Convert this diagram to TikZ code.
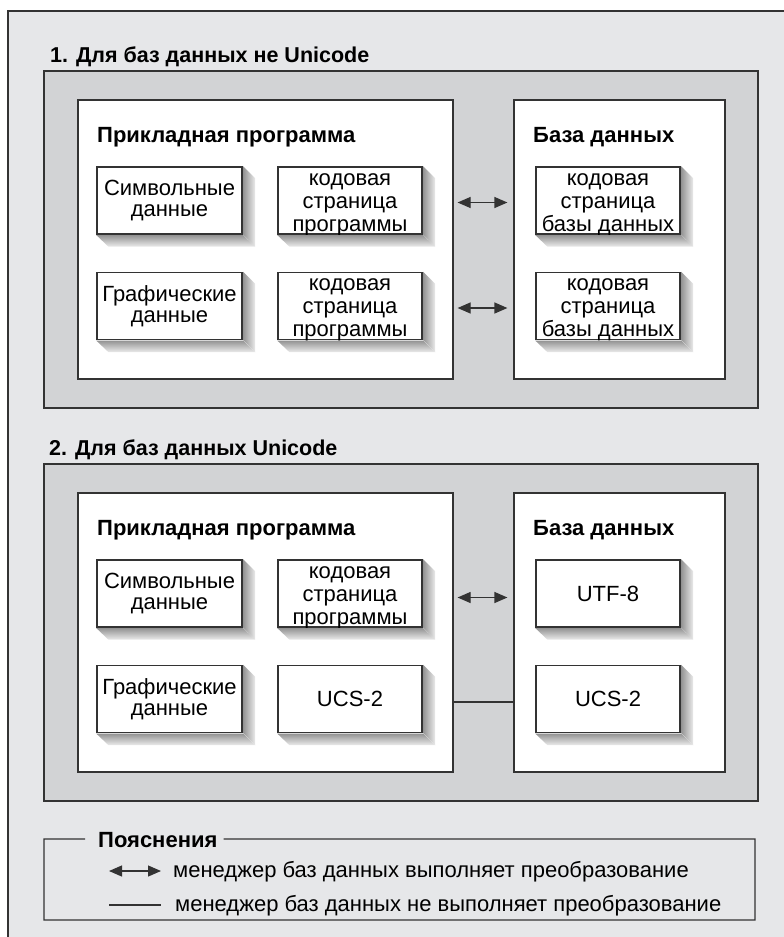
\documentclass[tikz,border=0pt]{standalone}
\usepackage{fontspec}
\setmainfont{Liberation Sans}
\usetikzlibrary{calc,arrows.meta}
\definecolor{outerbg}{HTML}{E6E7E9}
\definecolor{graybg}{HTML}{D2D3D5}
\definecolor{edge}{HTML}{333333}
\newcommand\dropshade[1]{%
  \shade[left color=black!42,right color=black!8]
    ($(#1.north east)+(0.6,0)$) -- ++(12,12) -- ($(#1.south east)+(12.6,12)$) -- ($(#1.south east)+(0.6,0)$) -- cycle;
  \shade[top color=black!42,bottom color=black!8]
    ($(#1.south west)+(0,0.6)$) -- ($(#1.south east)+(0.6,0.6)$) -- ($(#1.south east)+(12.6,12)$) -- ($(#1.south west)+(12,12)$) -- cycle;
}
\tikzset{
  graybox/.style={draw=edge,line width=1.2pt,fill=graybg,minimum width=714,minimum height=337,inner sep=0},
  whitebox/.style={draw=edge,line width=1.2pt,fill=white,minimum height=279,inner sep=0},
  smallbox/.style={draw=edge,line width=1.2pt,fill=white,minimum width=145,minimum height=67,inner sep=0,align=center,font=\fontsize{22}{21.5}\selectfont},
  threeline/.style={font=\fontsize{22}{23}\selectfont,text height=61pt,text depth=0pt},
  sectitle/.style={anchor=base west,inner sep=0,font=\fontsize{21.5}{24}\selectfont\bfseries},
  boxtitle/.style={anchor=base west,inner sep=0,font=\fontsize{22}{24}\selectfont\bfseries},
  legtext/.style={anchor=base west,inner sep=0,font=\fontsize{22}{24}\selectfont},
  conv/.style={draw=edge,line width=1.2pt,{Triangle[length=13pt,width=11pt]}-{Triangle[length=13pt,width=11pt]}},
  plain/.style={draw=edge,line width=1.2pt},
}
\begin{document}
\begin{tikzpicture}[x=1pt,y=-1pt]
\useasboundingbox (0,0) rectangle (784,937);
% outer frame
\fill[outerbg] (8,11) rectangle (784,937);
\draw[plain] (784,11) -- (8,11) -- (8,937);

% ---------- section 1 ----------
\node[sectitle] (t1) at (50,62) {1. Для баз данных не Unicode};
\node[graybox] (g1) at (401,239.5) {};
\node[whitebox,minimum width=375] (p1) at (265.5,239.5) {};
\node[whitebox,minimum width=211] (b1) at (619.5,239.5) {};
\node[boxtitle] (p1t) at (97,142) {Прикладная программа};
\node[boxtitle] (b1t) at (533,142) {База данных};
\node[smallbox] (s1) at (169.5,200.5) {Символьные\\данные};
\node[smallbox,threeline,minimum width=144] (k1) at (350,200.5) {кодовая\\страница\\программы};
\node[smallbox] (r1) at (169.5,306) {Графические\\данные};
\node[smallbox,threeline,minimum width=144] (k2) at (350,306) {кодовая\\страница\\программы};
\node[smallbox,threeline,minimum width=144] (d1) at (608,200.5) {кодовая\\страница\\базы данных};
\node[smallbox,threeline,minimum width=144] (d2) at (608,306) {кодовая\\страница\\базы данных};
\foreach \n in {s1,k1,r1,k2,d1,d2} {\dropshade{\n}}
\draw[conv,shorten <=4pt,shorten >=6pt] ($(p1.east |- k1.east)+(0,2)$) -- ($(b1.west |- k1.east)+(0,2)$);
\draw[conv,shorten <=4pt,shorten >=6pt] ($(p1.east |- k2.east)+(0,2)$) -- ($(b1.west |- k2.east)+(0,2)$);

% ---------- section 2 ----------
\node[sectitle] (t2) at (49,455) {2. Для баз данных Unicode};
\node[graybox] (g2) at (401,632.5) {};
\node[whitebox,minimum width=375] (p2) at (265.5,632.5) {};
\node[whitebox,minimum width=211] (b2) at (619.5,632.5) {};
\node[boxtitle] (p2t) at (97,535) {Прикладная программа};
\node[boxtitle] (b2t) at (533,535) {База данных};
\node[smallbox] (s2) at (169.5,593.5) {Символьные\\данные};
\node[smallbox,threeline,minimum width=144] (k3) at (350,593.5) {кодовая\\страница\\программы};
\node[smallbox] (r2) at (169.5,699) {Графические\\данные};
\node[smallbox,minimum width=144] (u1) at (350,699) {UCS-2};
\node[smallbox,minimum width=144] (f8) at (608,593.5) {UTF-8};
\node[smallbox,minimum width=144] (u2) at (608,699) {UCS-2};
\foreach \n in {s2,k3,r2,u1,f8,u2} {\dropshade{\n}}
\draw[conv,shorten <=4pt,shorten >=6pt] ($(p2.east |- k3.east)+(0,4)$) -- ($(b2.west |- k3.east)+(0,4)$);
\draw[plain] ($(p2.east |- u1.east)+(0,3)$) -- ($(b2.west |- u1.east)+(0,3)$);

% ---------- legend ----------
\node[anchor=base west,inner sep=0,font=\fontsize{22}{24}\selectfont\bfseries] (lt) at (98,847) {Пояснения};
\draw[plain] ($(lt.west)+(-13,-0.5)$) -- (44,839) -- (44,920) -- (755,920) -- (755,839) -- ($(lt.east)+(6,-0.5)$);
\coordinate (la1) at (109,871);
\coordinate (la2) at (161,871);
\coordinate (ll1) at (109,905);
\coordinate (ll2) at (161,905);
\draw[conv] (la1) -- (la2);
\draw[plain] (ll1) -- (ll2);
\node[legtext] (lx1) at (173,877) {менеджер баз данных выполняет преобразование};
\node[legtext] (lx2) at (175,911) {менеджер баз данных не выполняет преобразование};
\end{tikzpicture}
\end{document}
